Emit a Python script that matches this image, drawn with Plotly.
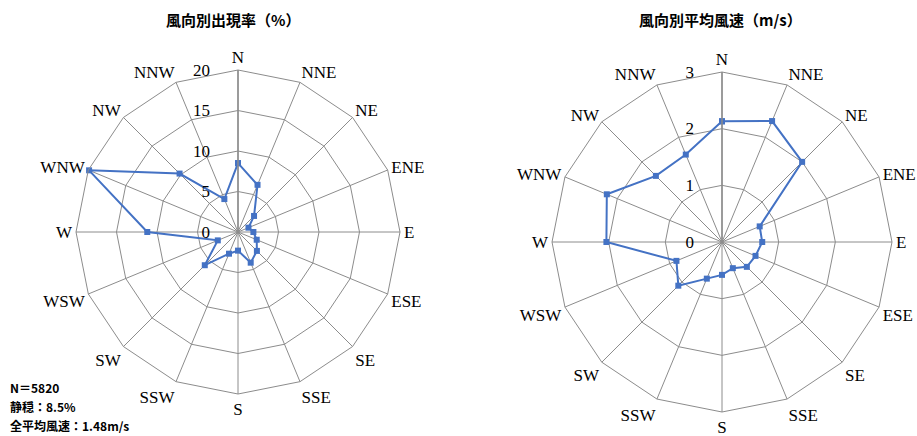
import plotly.graph_objects as go

directions = ["N", "NNE", "NE", "ENE", "E", "ESE", "SE", "SSE",
              "S", "SSW", "SW", "WSW", "W", "WNW", "NW", "NNW"]
freq_pct = [8.5, 6.3, 2.8, 1.4, 1.9, 2.5, 3.3, 4.1,
            2.3, 2.9, 5.8, 2.7, 11.2, 19.9, 10.2, 4.4]
mean_speed = [2.13, 2.31, 2.00, 0.72, 0.71, 0.64, 0.62, 0.50,
              0.58, 0.70, 1.09, 0.87, 2.04, 2.20, 1.65, 1.67]
title_freq = "風向別出現率（%）"
title_speed = "風向別平均風速（m/s）"
notes = ["N＝5820", "静穏：8.5%", "全平均風速：1.48m/s"]

LINE = "#4472C4"
GRID = "#8c8c8c"
SERIF = "Liberation Serif"
CJK = "Noto Sans CJK JP"

def closed(v):
    return list(v) + [v[0]]

fig = go.Figure()
fig.add_trace(go.Scatterpolar(
    r=closed(freq_pct), theta=closed(directions), mode="lines+markers",
    line=dict(color=LINE, width=2), marker=dict(symbol="square", size=6, color=LINE),
    subplot="polar", showlegend=False))
fig.add_trace(go.Scatterpolar(
    r=closed(mean_speed), theta=closed(directions), mode="lines+markers",
    line=dict(color=LINE, width=2), marker=dict(symbol="square", size=6, color=LINE),
    subplot="polar2", showlegend=False))

def polar_layout(domain_x, domain_y, rng, dtick):
    return dict(
        domain=dict(x=domain_x, y=domain_y),
        gridshape="linear",
        bgcolor="white",
        radialaxis=dict(range=rng, dtick=dtick, angle=90, tickangle=90,
                        side="counterclockwise", ticksuffix="\u00a0" * 5,
                        showline=True, linecolor=GRID, linewidth=1.5,
                        gridcolor=GRID, gridwidth=1, ticks="",
                        tickfont=dict(family=SERIF, size=17, color="black")),
        angularaxis=dict(type="category", categoryarray=directions,
                         direction="clockwise", rotation=90,
                         showline=True, linecolor=GRID, linewidth=1,
                         gridcolor=GRID, gridwidth=1, ticks="",
                         tickfont=dict(family=SERIF, size=17, color="black")),
    )

W, H = 917, 436
def dx(a, b):
    return [a / W, b / W]
def dy(top, bottom):
    return [1 - bottom / H, 1 - top / H]

fig.update_layout(
    width=W, height=H,
    margin=dict(l=0, r=0, t=0, b=0),
    paper_bgcolor="white",
    polar=polar_layout(dx(238 - 162, 238 + 162), dy(232 - 162, 232 + 162), [0, 20], 5),
    polar2=polar_layout(dx(722 - 170, 722 + 170), dy(242 - 170, 242 + 170), [0, 3], 1),
)

fig.add_annotation(text="<b>" + title_freq + "</b>", x=233 / W, y=1 - 20 / H,
                   xref="paper", yref="paper", xanchor="center", yanchor="middle",
                   showarrow=False, font=dict(family=CJK, size=15, color="black"))
fig.add_annotation(text="<b>" + title_speed + "</b>", x=720 / W, y=1 - 20 / H,
                   xref="paper", yref="paper", xanchor="center", yanchor="middle",
                   showarrow=False, font=dict(family=CJK, size=15, color="black"))
for i, t in enumerate(notes):
    fig.add_annotation(text="<b>" + t + "</b>", x=8 / W, y=1 - (387 + i * 19) / H,
                       xref="paper", yref="paper", xanchor="left", yanchor="middle",
                       showarrow=False, font=dict(family=CJK, size=12, color="black"))

fig.write_html("out.html", config={"displayModeBar": False},
               post_script="document.body.style.margin='0';")
